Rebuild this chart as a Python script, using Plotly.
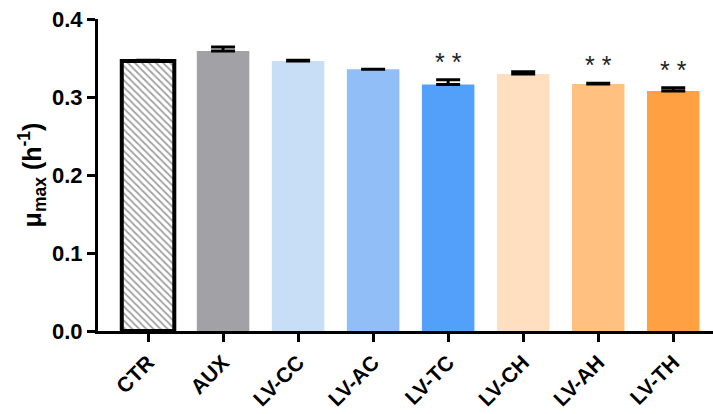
import plotly.graph_objects as go

# Maximum specific growth rate per treatment
categories = ["CTR", "AUX", "LV-CC", "LV-AC", "LV-TC", "LV-CH", "LV-AH", "LV-TH"]
mu_max = [0.346, 0.359, 0.346, 0.3355, 0.316, 0.3295, 0.3167, 0.3077]
sem = [0.001, 0.005, 0.001, 0.0, 0.006, 0.003, 0.001, 0.004]
significance = ["", "", "", "", "* *", "", "* *", "* *"]
y_ticks = [0.0, 0.1, 0.2, 0.3, 0.4]

colors = ["#ffffff", "#a2a1a6", "#c8ddf6", "#91bef6", "#53a0fb",
          "#ffdfbf", "#ffc080", "#ffa142"]
patterns = ["\\", "", "", "", "", "", "", ""]
outline_widths = [4, 0, 0, 0, 0, 0, 0, 0]

fig = go.Figure()
fig.add_trace(go.Bar(
    x=list(range(len(categories))),
    y=mu_max,
    width=0.70,
    marker=dict(
        color=colors,
        line=dict(color="black", width=outline_widths),
        pattern=dict(shape=patterns, fgcolor="#333333", bgcolor="#ffffff",
                     size=5, solidity=0.35),
    ),
    error_y=dict(type="data", array=sem, symmetric=False, arrayminus=[0] * len(sem),
                 color="black", thickness=3, width=12),
    showlegend=False,
))

for i, (v, e, s) in enumerate(zip(mu_max, sem, significance)):
    if s:
        fig.add_annotation(x=i, y=v + e, text=s, showarrow=False, yanchor="bottom",
                           yshift=2, font=dict(size=25, color="#222222",
                                               family="Liberation Sans"))

bold = dict(family="Liberation Sans", color="black")
fig.update_layout(
    width=713, height=414,
    margin=dict(l=98, r=0, t=19, b=83),
    plot_bgcolor="white", paper_bgcolor="white",
    xaxis=dict(
        range=[-0.667, 7.53],
        tickmode="array",
        tickvals=list(range(len(categories))),
        ticktext=[f"<b>{c}</b>" for c in categories],
        tickangle=-45,
        tickfont=dict(size=21, **bold),
        showline=True, linecolor="black", linewidth=3,
        ticks="outside", ticklen=8, tickwidth=3, tickcolor="black",
        showgrid=False, zeroline=False, automargin=False,
    ),
    yaxis=dict(
        range=[0, 0.4],
        tickmode="array",
        tickvals=y_ticks,
        ticktext=[f"<b>{t:.1f}</b>" for t in y_ticks],
        tickfont=dict(size=22, **bold),
        showline=True, linecolor="black", linewidth=3,
        ticks="outside", ticklen=8, tickwidth=3, tickcolor="black",
        showgrid=False, zeroline=False, automargin=False,
        title=dict(text="<b>μ<sub>max</sub> (h<sup>-1</sup>)</b>",
                   font=dict(size=25, **bold), standoff=4),
    ),
)

fig.write_html("out.html")
